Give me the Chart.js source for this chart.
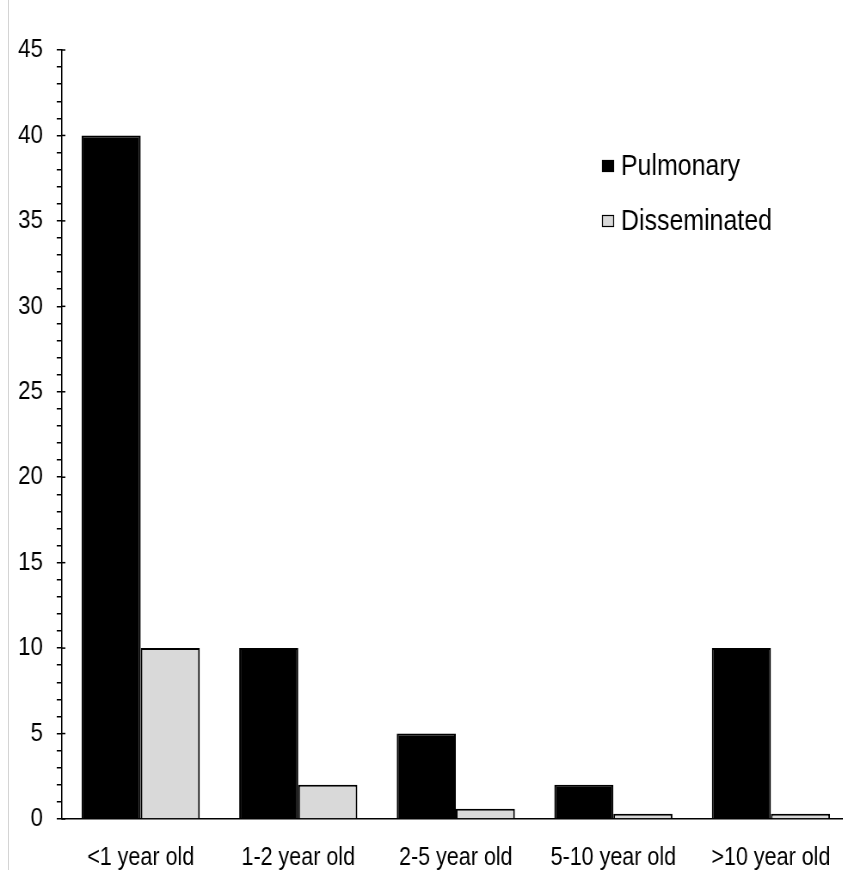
<!DOCTYPE html>
<html>
<head>
    <title>Pulmonary vs Disseminated</title>
    <script src="https://cdn.jsdelivr.net/npm/chart.js"></script>
    <style>
        html, body { margin: 0; padding: 0; background: #fff; overflow: hidden; }
        /* the original figure is horizontally condensed (narrow font look) */
        #wrap { position: absolute; left: 0; top: 0; width: 990px; height: 870px; transform: scaleX(0.86); transform-origin: 0 0; }
        #edge { position: absolute; left: 8px; top: 0; width: 1px; height: 870px; background: #d4d4d4; }
    </style>
</head>
<body>
    <div id="edge"></div>
    <div id="wrap">
        <canvas id="bars" width="990" height="870"></canvas>
    </div>

    <script>
        'use strict';

        const categories = ['<1 year old', '1-2 year old', '2-5 year old', '5-10 year old', '>10 year old'];
        const pulmonary = [40, 10, 5, 2, 10];
        const disseminated = [10, 2, 0.6, 0.3, 0.3];
        const yMax = 45;
        const yMajorStep = 5;

        const fontFamily = "'Liberation Sans', Arial, sans-serif";

        // legend drawn inside the plot, top right
        const innerLegend = {
            id: 'innerLegend',
            afterDraw(chart) {
                const ctx = chart.ctx;
                const x = 700, y0 = 166, gap = 55, bw = 14, bh = 12;
                ctx.save();
                ctx.font = '29px ' + fontFamily;
                ctx.textBaseline = 'middle';
                chart.data.datasets.forEach(function (ds, i) {
                    const y = y0 + i * gap;
                    ctx.fillStyle = ds.backgroundColor;
                    ctx.fillRect(x, y - bh / 2, bw, bh);
                    ctx.lineWidth = 1.2;
                    ctx.strokeStyle = '#000';
                    ctx.strokeRect(x + 0.5, y - bh / 2 + 0.5, bw - 1, bh - 1);
                    ctx.fillStyle = '#000';
                    ctx.fillText(ds.label, x + 22, y + 1);
                });
                ctx.restore();
            }
        };

        // major ticks poke a little through the axis
        const majorTicks = {
            id: 'majorTicks',
            afterDraw(chart) {
                const scale = chart.scales.y;
                const ctx = chart.ctx;
                ctx.save();
                ctx.strokeStyle = '#000';
                ctx.lineWidth = 1.5;
                for (let v = 0; v <= yMax; v += yMajorStep) {
                    const py = scale.getPixelForValue(v);
                    ctx.beginPath();
                    ctx.moveTo(scale.right, py);
                    ctx.lineTo(scale.right + 4, py);
                    ctx.stroke();
                }
                ctx.restore();
            }
        };

        const ctx = document.getElementById('bars').getContext('2d');

        new Chart(ctx, {
            type: 'bar',
            data: {
                labels: categories,
                datasets: [{
                    label: 'Pulmonary',
                    data: pulmonary,
                    backgroundColor: '#000000',
                    borderColor: '#000000',
                    borderWidth: 2
                }, {
                    label: 'Disseminated',
                    data: disseminated,
                    backgroundColor: '#d9d9d9',
                    borderColor: '#000000',
                    borderWidth: 2
                }]
            },
            plugins: [innerLegend, majorTicks],
            options: {
                responsive: false,
                animation: false,
                layout: {
                    padding: { top: 50, right: 2, bottom: 0, left: 0 }
                },
                datasets: {
                    bar: {
                        categoryPercentage: 0.75,
                        barPercentage: 1.0
                    }
                },
                scales: {
                    x: {
                        grid: { display: false, drawTicks: false, tickLength: 0 },
                        border: { display: true, color: '#000', width: 1.5 },
                        ticks: {
                            color: '#000',
                            padding: 24,
                            maxRotation: 0,
                            autoSkip: false,
                            font: { family: fontFamily, size: 25 }
                        },
                        afterFit(scale) { scale.height = 51; }
                    },
                    y: {
                        min: 0,
                        max: yMax,
                        grid: {
                            drawOnChartArea: false,
                            color: '#000',
                            lineWidth: 1.5,
                            tickLength: 6
                        },
                        border: { display: true, color: '#000', width: 1.5 },
                        ticks: {
                            stepSize: 1,
                            autoSkip: false,
                            color: '#000',
                            padding: 16,
                            font: { family: fontFamily, size: 26 },
                            callback: function (value) {
                                return value % yMajorStep === 0 ? value : '';
                            }
                        },
                        afterFit(scale) { scale.width = 72; }
                    }
                },
                plugins: {
                    legend: { display: false },
                    tooltip: { enabled: false }
                }
            }
        });
    </script>
</body>
</html>
